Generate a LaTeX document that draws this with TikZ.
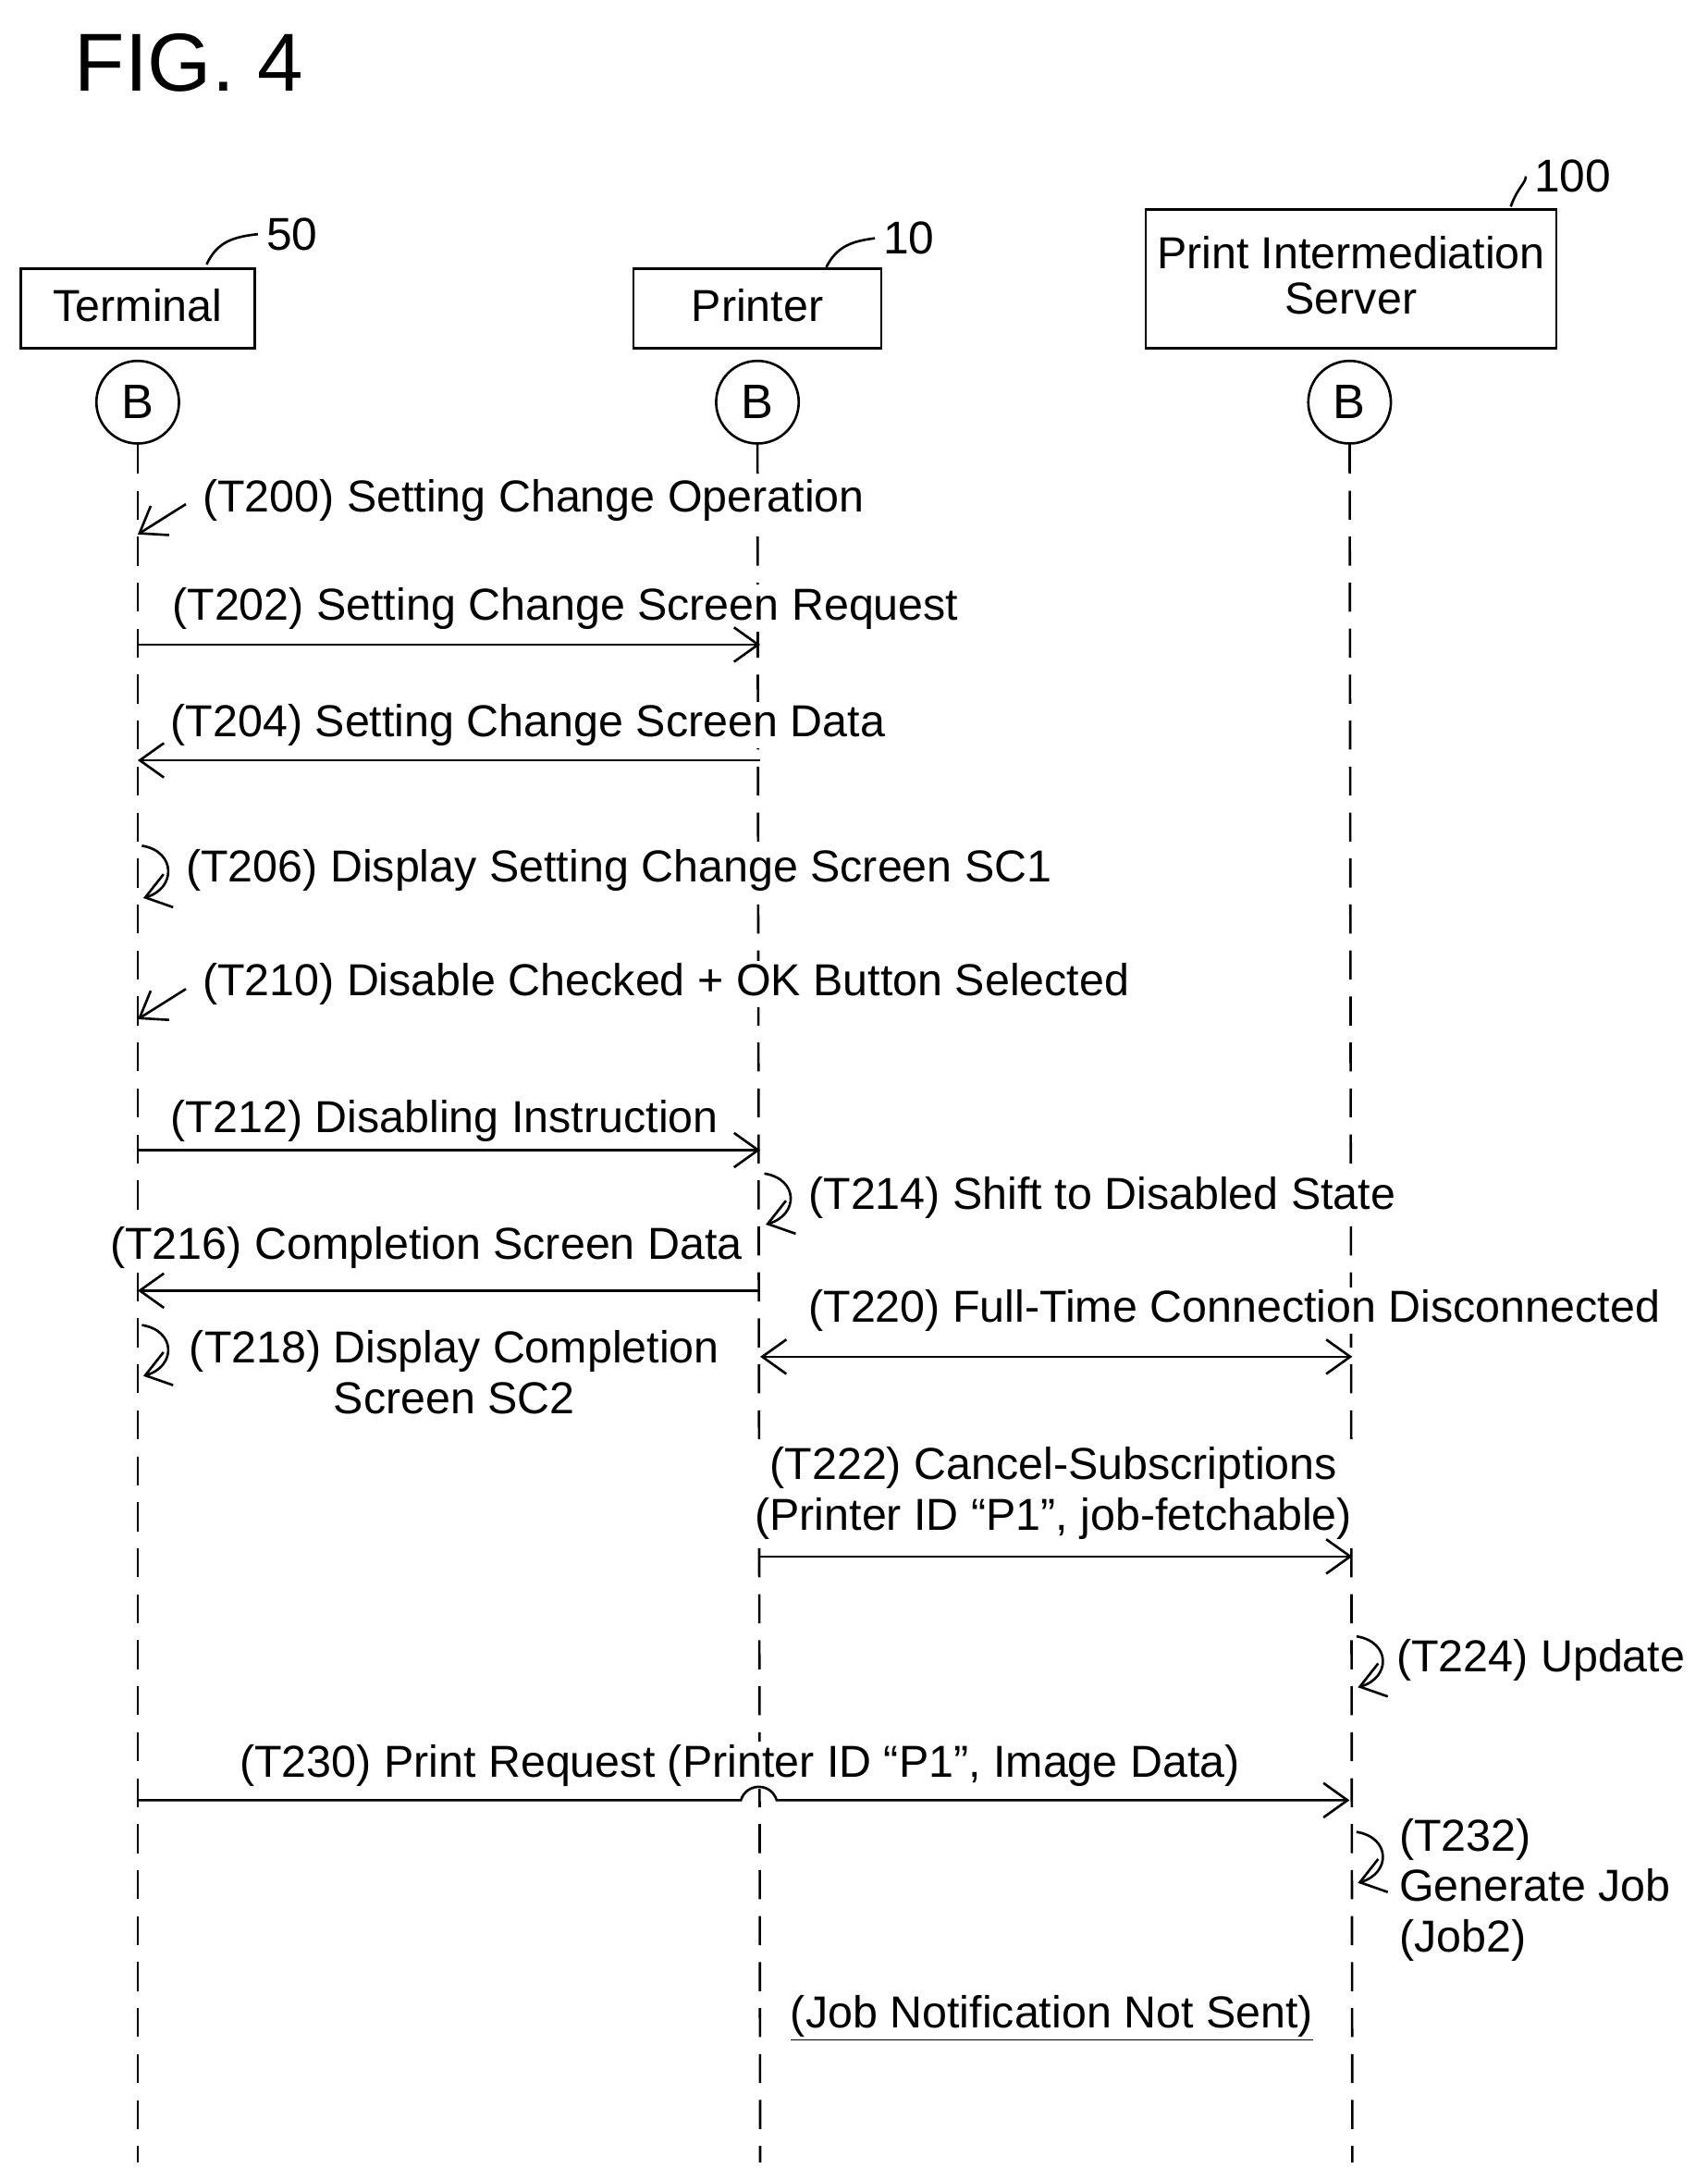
\documentclass[tikz,border=0pt]{standalone}
\usepackage{fontspec}
\setmainfont{Liberation Sans}
\usetikzlibrary{positioning,arrows.meta}

\begin{document}
\begin{tikzpicture}[x=0.02cm,y=-0.02cm,
	every node/.style={font=\fontsize{18.5}{21}\selectfont},
	bee/.style={circle, draw, line width=1pt, minimum size=1.2cm, inner sep=0pt, font=\fontsize{20}{24}\selectfont},
	life/.style={line width=1pt, dash pattern=on 12pt off 7pt},
	lbl/.style={fill=white, inner sep=1pt, anchor=base west},
	arr/.style={-{Straight Barb[length=3.5mm,width=5mm]}, line width=1pt},
	darr/.style={{Straight Barb[length=3.5mm,width=5mm]}-{Straight Barb[length=3.5mm,width=5mm]}, line width=1pt},
	ref/.style={font=\fontsize{19}{23}\selectfont}
	]
\useasboundingbox (0,0) rectangle (1240,1574);

\node[anchor=north west, font=\fontsize{34}{40}\selectfont] (fig) at (48,18) {FIG. 4};

% entities
\draw[line width=1pt] (15,195) rectangle (185,253);
\node (term) at (100,222) {Terminal};
\draw[line width=1pt] (460,195) rectangle (640,253);
\node (prin) at (550,222) {Printer};
\draw[line width=1pt] (832,152) rectangle (1130,253);
\node[align=center, font=\fontsize{18.5}{18.5}\selectfont] (serv) at (981,200) {Print Intermediation\\Server};

\node[ref] (r50) at (212,170) {50};
\node[ref] (r10) at (660,173) {10};
\node[ref] (r100) at (1142,128) {100};
\draw[line width=1pt] (150,192) .. controls (158,175) and (170,172) .. (r50.west);
\draw[line width=1pt] (600,194) .. controls (608,178) and (620,175) .. (r10.west);
\draw[line width=1pt] (1097,150) .. controls (1102,136) and (1108,133) .. (r100.west);

\node[bee] (bt) at (100,292) {B};
\node[bee] (bp) at (550,292) {B};
\node[bee] (bs) at (980,292) {B};

% lifelines
\coordinate (et) at (100,1570);
\coordinate (ep) at (552,1570);
\coordinate (es) at (982,1570);
\draw[life] (bt) -- (et);
\draw[life] (bp) -- (ep);
\draw[life] (bs) -- (es);

% T200
\node[lbl] (t200) at (145,372) {(T200) Setting Change Operation};
\draw[arr] (135,366) -- (100,388);
% T202
\coordinate (a202) at (100,468); \coordinate (b202) at (552,468);
\node[lbl] (t202) at (123,450) {(T202) Setting Change Screen Request};
\draw[arr] (a202) -- (b202);
% T204
\coordinate (a204) at (552,552); \coordinate (b204) at (100,552);
\node[lbl] (t204) at (122,535) {(T204) Setting Change Screen Data};
\draw[arr] (a204) -- (b204);
% T206
\node[lbl] (t206) at (133,640) {(T206) Display Setting Change Screen SC1};
\draw[arr] (103,614) .. controls (128,618) and (128,645) .. (104,652);
% T210
\node[lbl] (t210) at (145,723) {(T210) Disable Checked + OK Button Selected};
\draw[arr] (135,718) -- (100,740);
% T212
\coordinate (a212) at (100,835); \coordinate (b212) at (552,835);
\node[lbl] (t212) at (122,822) {(T212) Disabling Instruction};
\draw[arr] (a212) -- (b212);
% T214
\node[lbl] (t214) at (585,878) {(T214) Shift to Disabled State};
\draw[arr] (555,852) .. controls (580,856) and (580,882) .. (556,889);
% T216
\coordinate (a216) at (552,937); \coordinate (b216) at (100,937);
\node[lbl] (t216) at (78,914) {(T216) Completion Screen Data};
\draw[arr] (a216) -- (b216);
% T218
\node[align=center, fill=white, inner sep=1pt] (t218) at (330,996) {(T218) Display Completion\\Screen SC2};
\draw[arr] (103,962) .. controls (128,966) and (128,992) .. (104,999);
% T220
\coordinate (a220) at (552,985); \coordinate (b220) at (982,985);
\node[lbl] (t220) at (585,960) {(T220) Full-Time Connection Disconnected};
\draw[darr] (a220) -- (b220);
% T222
\coordinate (a222) at (552,1130); \coordinate (b222) at (982,1130);
\node[align=center, fill=white, inner sep=1pt] (t222) at (765,1084) {(T222) Cancel-Subscriptions\\(Printer ID \textquotedblleft P1\textquotedblright, job-fetchable)};
\draw[arr] (a222) -- (b222);
% T224
\node[lbl] (t224) at (1012,1214) {(T224) Update};
\draw[arr] (985,1188) .. controls (1010,1192) and (1010,1218) .. (986,1225);
% T230
\coordinate (a230) at (100,1307); \coordinate (b230) at (980,1307);
\node[lbl] (t230) at (172,1290) {(T230) Print Request (Printer ID \textquotedblleft P1\textquotedblright, Image Data)};
\draw[arr] (a230) -- (538,1307) .. controls (542,1294) and (560,1294) .. (564,1307) -- (b230);
% T232
\node[align=left, anchor=north west, fill=white, inner sep=1pt] (t232) at (1014,1318) {(T232)\\Generate Job\\(Job2)};
\draw[arr] (985,1330) .. controls (1010,1334) and (1010,1360) .. (986,1367);
% note
\node[lbl] (note) at (572,1472) {\underline{(Job Notification Not Sent)}};
\end{tikzpicture}
\end{document}
